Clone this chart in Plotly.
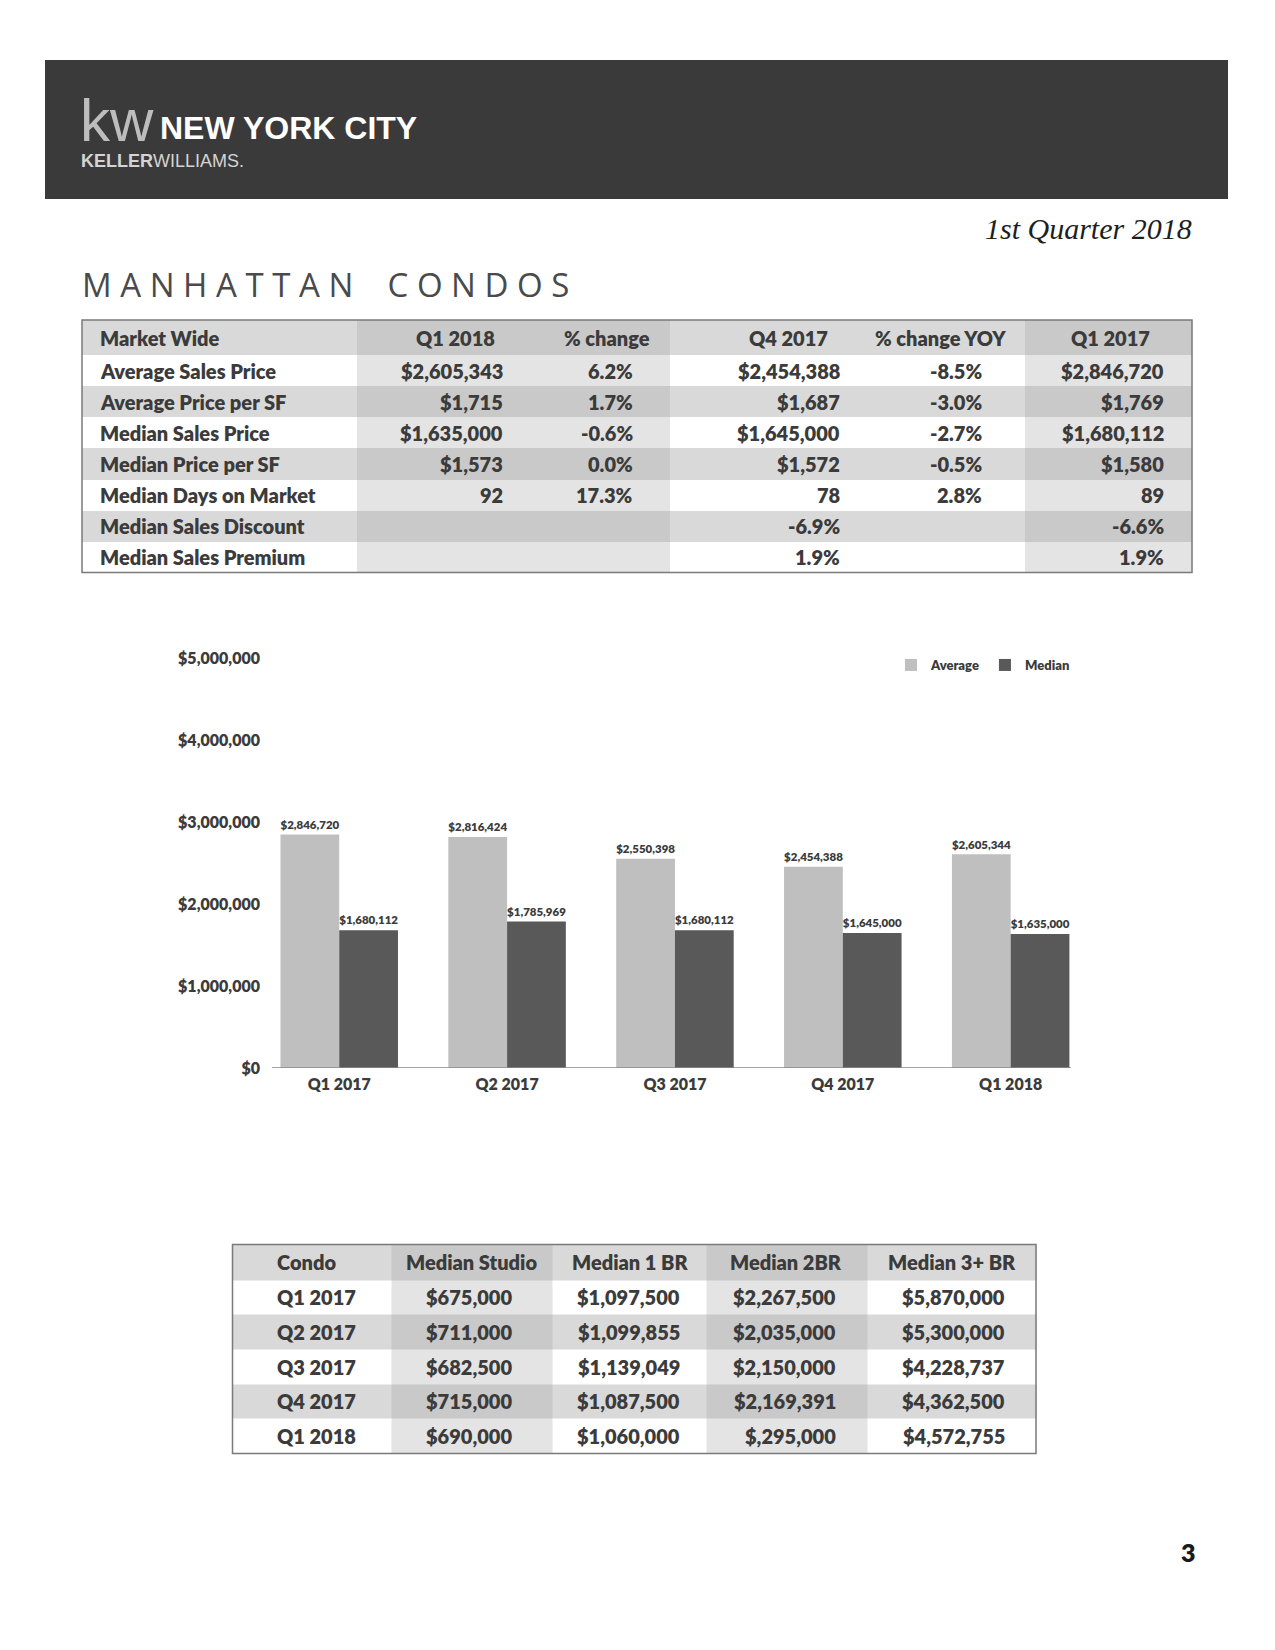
import plotly.graph_objects as go

# ---------------- data ----------------
quarters = ["Q1 2017", "Q2 2017", "Q3 2017", "Q4 2017", "Q1 2018"]
avg_price = [2846720, 2816424, 2550398, 2454388, 2605344]
median_price = [1680112, 1785969, 1680112, 1645000, 1635000]
y_ticks = [0, 1000000, 2000000, 3000000, 4000000, 5000000]

mw_header = ["Market Wide", "Q1 2018", "% change", "Q4 2017", "% change YOY", "Q1 2017"]
mw_labels = ["Average Sales Price", "Average Price per SF", "Median Sales Price",
             "Median Price per SF", "Median Days on Market", "Median Sales Discount",
             "Median Sales Premium"]
mw_q1_2018 = ["$2,605,343", "$1,715", "$1,635,000", "$1,573", "92", "", ""]
mw_pct_change = ["6.2%", "1.7%", "-0.6%", "0.0%", "17.3%", "", ""]
mw_q4_2017 = ["$2,454,388", "$1,687", "$1,645,000", "$1,572", "78", "-6.9%", "1.9%"]
mw_pct_yoy = ["-8.5%", "-3.0%", "-2.7%", "-0.5%", "2.8%", "", ""]
mw_q1_2017 = ["$2,846,720", "$1,769", "$1,680,112", "$1,580", "89", "-6.6%", "1.9%"]

bed_header = ["Condo", "Median Studio", "Median 1 BR", "Median 2BR", "Median 3+ BR"]
bed_quarters = ["Q1 2017", "Q2 2017", "Q3 2017", "Q4 2017", "Q1 2018"]
bed_studio = ["$675,000", "$711,000", "$682,500", "$715,000", "$690,000"]
bed_1br = ["$1,097,500", "$1,099,855", "$1,139,049", "$1,087,500", "$1,060,000"]
bed_2br = ["$2,267,500", "$2,035,000", "$2,150,000", "$2,169,391", "$,295,000"]
bed_3br = ["$5,870,000", "$5,300,000", "$4,228,737", "$4,362,500", "$4,572,755"]

# ---------------- layout constants (page pixels) ----------------
W, H = 1275, 1650
FONT = "Lato"
BOLD = 800
TEXT = "#3b3b3b"
NARROW = "Liberation Sans Narrow, Liberation Sans, Arial"
CELL_COLORS = ["#ffffff", "#d9d9d9", "#e4e4e4", "#c9c9c9"]

MW_BANDS_X = [82, 357, 670, 1025, 1192]
MW_SHADED = [1, 3]
MW_ROWS_Y = [320, 355, 386, 417, 448, 479.5, 510.5, 541.5, 572.5]
MW_HEAD_X = [98, 455, 607, 788.6, 940, 1110.6]
MW_HEAD_ANCHOR = ["left", "center", "center", "center", "center", "center"]
MW_VAL_X = [98, 505, 635.4, 841.6, 983.6, 1165.6]
MW_VAL_ANCHOR = ["left", "right", "right", "right", "right", "right"]

BD_BANDS_X = [232.5, 391.3, 552.3, 706, 867, 1036]
BD_SHADED = [1, 3]
BD_ROWS_Y = [1244.5, 1280, 1314.7, 1349.4, 1384.1, 1418.8, 1453.5]
BD_HEAD_X = [274.6, 471, 630, 786.4, 952]
BD_HEAD_ANCHOR = ["left", "center", "center", "center", "center"]
BD_VAL_X = [274.6, 514.4, 681.7, 838.4, 1006.8]
BD_VAL_ANCHOR = ["left", "right", "right", "right", "right"]

# chart geometry (pixels)
PLOT_X0, PLOT_X1 = 255.3, 1094.6
PLOT_Y_TOP, PLOT_Y_BOT = 658, 1068
BASE_X0, BASE_X1 = 272, 1071
YAXIS_POS = 260


def px_x(v):
    return v / W


def px_y(v):
    return 1 - v / H


fig = go.Figure()

# ---------------- bar chart ----------------
label_font = dict(family=FONT, size=12.5, color=TEXT, weight=BOLD)
fig.add_trace(go.Bar(x=quarters, y=avg_price, name="Average",
                     marker=dict(color="#bfbfbf", line=dict(width=0)),
                     texttemplate="$%{y:,.0f}", textposition="outside",
                     textfont=label_font, cliponaxis=False, hoverinfo="skip"))
fig.add_trace(go.Bar(x=quarters, y=median_price, name="Median",
                     marker=dict(color="#595959", line=dict(width=0)),
                     texttemplate="$%{y:,.0f}", textposition="outside",
                     textfont=label_font, cliponaxis=False, hoverinfo="skip"))


# ---------------- tables (heatmap fills on a page-pixel axis) ----------------
def band_z(n_rows, n_bands, shaded):
    z = []
    for r in range(n_rows):
        dark = (r % 2 == 0)
        row = []
        for b in range(n_bands):
            if b in shaded:
                row.append(3 if dark else 2)
            else:
                row.append(1 if dark else 0)
        z.append(row)
    return z


cs = []
for i, c in enumerate(CELL_COLORS):
    lo = max(0.0, (i - 0.5) / 3)
    hi = min(1.0, (i + 0.5) / 3)
    cs.append([lo, c])
    cs.append([hi, c])

for bx, by, sh in [(MW_BANDS_X, MW_ROWS_Y, MW_SHADED), (BD_BANDS_X, BD_ROWS_Y, BD_SHADED)]:
    fig.add_trace(go.Heatmap(x=bx, y=by, z=band_z(len(by) - 1, len(bx) - 1, sh),
                             xaxis="x2", yaxis="y2", colorscale=cs, zmin=0, zmax=3,
                             showscale=False, hoverinfo="skip", showlegend=False,
                             zsmooth=False))

# table borders
for bx, by in [(MW_BANDS_X, MW_ROWS_Y), (BD_BANDS_X, BD_ROWS_Y)]:
    fig.add_shape(type="rect", xref="x2", yref="y2", x0=bx[0], x1=bx[-1],
                  y0=by[0], y1=by[-1], line=dict(color="#7a7a7a", width=1.5),
                  fillcolor="rgba(0,0,0,0)", layer="above")


def add_text(x, y, text, anchor, size=20, color=TEXT, family=FONT, weight=BOLD, style="normal"):
    fig.add_annotation(x=x, y=y, xref="x2", yref="y2", text=text, showarrow=False,
                       xanchor=anchor, yanchor="middle",
                       font=dict(family=family, size=size, color=color, weight=weight, style=style))


def mid(edges, i):
    return (edges[i] + edges[i + 1]) / 2


mw_cols = [mw_labels, mw_q1_2018, mw_pct_change, mw_q4_2017, mw_pct_yoy, mw_q1_2017]
for j, h in enumerate(mw_header):
    add_text(MW_HEAD_X[j], mid(MW_ROWS_Y, 0), h, MW_HEAD_ANCHOR[j])
for j, col in enumerate(mw_cols):
    for i, v in enumerate(col):
        if v:
            add_text(MW_VAL_X[j], mid(MW_ROWS_Y, i + 1), v, MW_VAL_ANCHOR[j])

bd_cols = [bed_quarters, bed_studio, bed_1br, bed_2br, bed_3br]
for j, h in enumerate(bed_header):
    add_text(BD_HEAD_X[j], mid(BD_ROWS_Y, 0), h, BD_HEAD_ANCHOR[j])
for j, col in enumerate(bd_cols):
    for i, v in enumerate(col):
        add_text(BD_VAL_X[j], mid(BD_ROWS_Y, i + 1), v, BD_VAL_ANCHOR[j])

# ---------------- page header ----------------
fig.add_shape(type="rect", xref="x2", yref="y2", x0=45, x1=1228, y0=60, y1=199,
              fillcolor="#3a3a3a", line=dict(width=0), layer="below")
add_text(78, 120, "kw", "left", size=60, color="#bdbdbd", family="Liberation Sans", weight=400)
add_text(158, 128, "NEW YORK CITY", "left", size=32, color="#ffffff", family=NARROW, weight=700)
add_text(79, 161, "<b>KELLER</b>WILLIAMS.", "left", size=18, color="#d4d4d4", family=NARROW, weight=400)
add_text(1194, 228, "1st Quarter 2018", "right", size=30, color="#1e1e1e",
         family="Liberation Serif", weight=400, style="italic")
spaced = "\u00a0".join("MANHATTAN") + "\u00a0" * 4 + "\u00a0".join("CONDOS")
add_text(80, 284, spaced, "left", size=33, color="#4a4a4a", family="Open Sans", weight=400)
add_text(1188, 1552, "3", "center", size=25, color="#1a1a1a")

# baseline of the bar chart
fig.add_shape(type="line", xref="paper", yref="y", x0=px_x(BASE_X0), x1=px_x(BASE_X1),
              y0=0, y1=0, line=dict(color="#8a8a8a", width=1.5))

tick_font = dict(family=FONT, size=16, color=TEXT, weight=BOLD)
fig.update_layout(
    width=W, height=H, margin=dict(l=0, r=0, t=0, b=0, autoexpand=False),
    paper_bgcolor="#ffffff", plot_bgcolor="rgba(0,0,0,0)",
    barmode="group", bargap=0.3, bargroupgap=0,
    xaxis=dict(domain=[px_x(PLOT_X0), px_x(PLOT_X1)], anchor="y", showline=False,
               showgrid=False, zeroline=False, ticks="", tickfont=tick_font,
               ticklabelstandoff=5, fixedrange=True, automargin=False),
    yaxis=dict(domain=[px_y(PLOT_Y_BOT), px_y(PLOT_Y_TOP)], anchor="free",
               position=px_x(YAXIS_POS), range=[0, 5000000], tickmode="array",
               tickvals=y_ticks, ticktext=["${:,}".format(v) for v in y_ticks],
               showgrid=False, zeroline=False, automargin=False,
               showline=False, ticks="", tickfont=tick_font, fixedrange=True),
    xaxis2=dict(domain=[0, 1], range=[0, W], anchor="y2", visible=False, fixedrange=True,
                automargin=False),
    yaxis2=dict(domain=[0, 1], range=[H, 0], anchor="x2", visible=False, fixedrange=True,
                automargin=False),
    legend=dict(orientation="h", x=px_x(1075), xanchor="right", y=px_y(665), yanchor="middle",
                font=dict(family=FONT, size=13, color=TEXT, weight=BOLD),
                bgcolor="rgba(0,0,0,0)", itemwidth=30, traceorder="normal"),
    showlegend=True,
)

fig.write_html("out.html", config={"displayModeBar": False},
               post_script="document.body.style.margin='0';document.body.style.overflow='hidden';")
